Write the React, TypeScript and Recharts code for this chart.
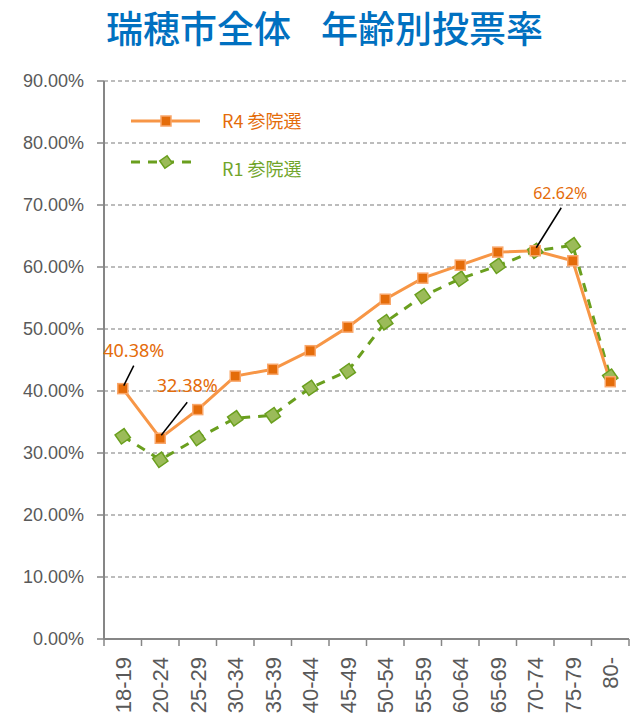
import React from 'react';
import {
  LineChart,
  Line,
  XAxis,
  YAxis,
  CartesianGrid,
} from 'recharts';

const AGE_GROUPS = [
  '18-19', '20-24', '25-29', '30-34', '35-39', '40-44', '45-49',
  '50-54', '55-59', '60-64', '65-69', '70-74', '75-79', '80-',
];
const R4_RATES = [40.38, 32.38, 37.0, 42.4, 43.5, 46.5, 50.3, 54.8, 58.2, 60.3, 62.4, 62.62, 61.0, 41.5];
const R1_RATES = [32.7, 28.9, 32.4, 35.6, 36.1, 40.5, 43.2, 51.1, 55.3, 58.1, 60.2, 62.6, 63.5, 42.3];
const Y_TICKS = [0, 10, 20, 30, 40, 50, 60, 70, 80, 90];
const R4_NAME = 'R4 参院選';
const R1_NAME = 'R1 参院選';
const TITLE_LEFT = '瑞穂市全体';
const TITLE_RIGHT = '年齢別投票率';

// which R4 points get a value label, and where the label sits relative to the point
const LABELLED: Record<number, { dx: number; dy: number; lx: number; ly: number; size: number }> = {
  0: { dx: 11, dy: -32, lx: 11, ly: -23, size: 18 },
  1: { dx: 27, dy: -46, lx: 27, ly: -36, size: 18 },
  11: { dx: 25, dy: -52, lx: 26, ly: -43, size: 16 },
};

const data = AGE_GROUPS.map((age, i) => ({ age, r4: R4_RATES[i], r1: R1_RATES[i] }));

const W = 641;
const H = 722;
const LEFT = 104;
const RIGHT = 12;
const TOP = 81;
const BOTTOM = 83;
const HALF_BAND = (W - LEFT - RIGHT) / AGE_GROUPS.length / 2;

const AXIS = '#868686';
const ORANGE = '#F79646';
const ORANGE_DARK = '#E46C0A';
const GREEN = '#6A9F1E';
const GREEN_FILL = '#9BBB59';
const GREEN_TEXT = '#71A52A';

function SquareDot(props: any) {
  const { cx, cy } = props;
  if (cx == null || cy == null) return null;
  return <rect x={cx - 5} y={cy - 5} width={10} height={10} fill={ORANGE_DARK} stroke="#F9A76B" strokeWidth={1.5} />;
}

function DiamondDot(props: any) {
  const { cx, cy, size = 11 } = props;
  if (cx == null || cy == null) return null;
  const h = size / 2;
  return (
    <rect
      x={cx - h}
      y={cy - h}
      width={size}
      height={size}
      fill={GREEN_FILL}
      stroke={GREEN}
      strokeWidth={1.5}
      transform={`rotate(-35 ${cx} ${cy})`}
    />
  );
}

function ValueLabel(props: any) {
  const { x, y, index, value } = props;
  const l = LABELLED[index];
  if (!l) return null;
  return (
    <g>
      <line x1={x + 1} y1={y - 3} x2={x + l.lx} y2={y + l.ly} stroke="#000" strokeWidth={1.5} />
      <text
        x={x + l.dx}
        y={y + l.dy}
        textAnchor="middle"
        fill={ORANGE_DARK}
        fontSize={l.size}
        fontFamily="'Noto Sans', sans-serif"
      >
        {Number(value).toFixed(2)}%
      </text>
    </g>
  );
}

function AgeTick(props: any) {
  const { x, y, payload, index } = props;
  const ty = y + 18;
  return (
    <g>
      <line x1={x - HALF_BAND} y1={y} x2={x - HALF_BAND} y2={y + 7} stroke={AXIS} strokeWidth={1.5} />
      {index === AGE_GROUPS.length - 1 && (
        <line x1={x + HALF_BAND} y1={y} x2={x + HALF_BAND} y2={y + 7} stroke={AXIS} strokeWidth={1.5} />
      )}
      <text
        x={x}
        y={ty}
        dy="0.36em"
        textAnchor="end"
        transform={`rotate(-90 ${x} ${ty})`}
        fill="#595959"
        fontSize={22}
        fontFamily="'Liberation Sans', Arial, sans-serif"
      >
        {payload.value}
      </text>
    </g>
  );
}

function LegendBox() {
  return (
    <svg width={220} height={80} style={{ position: 'absolute', left: 120, top: 100 }}>
      <line x1={11} y1={21} x2={80} y2={21} stroke={ORANGE} strokeWidth={3} />
      <SquareDot cx={46} cy={21} />
      <text x={102} y={28} fill={ORANGE_DARK} fontSize={18} fontFamily="'Noto Sans CJK JP', sans-serif">
        {R4_NAME}
      </text>
      <line x1={11} y1={62} x2={78} y2={62} stroke={GREEN} strokeWidth={3} strokeDasharray="9 8" />
      <DiamondDot cx={46} cy={62} size={9} />
      <text x={102} y={76} fill={GREEN_TEXT} fontSize={18} fontFamily="'Noto Sans CJK JP', sans-serif">
        {R1_NAME}
      </text>
    </svg>
  );
}

export default function App() {
  return (
    <div style={{ position: 'absolute', left: 0, top: 0, width: W, height: H, background: '#fff' }}>
      <div
        style={{
          position: 'absolute',
          left: 106,
          top: 4,
          fontSize: 37,
          lineHeight: '46px',
          color: '#0070C0',
          fontWeight: 500,
          fontFamily: "'Noto Sans CJK JP', sans-serif",
          whiteSpace: 'nowrap',
        }}
      >
        {TITLE_LEFT}
        <span style={{ marginLeft: 30 }}>{TITLE_RIGHT}</span>
      </div>
      <LineChart
        width={W}
        height={H}
        data={data}
        margin={{ top: TOP, right: RIGHT, bottom: 0, left: 0 }}
      >
        <CartesianGrid vertical={false} stroke="#A6A6A6" strokeDasharray="4 3" strokeWidth={1.5} />
        <XAxis
          dataKey="age"
          height={BOTTOM}
          padding={{ left: HALF_BAND, right: HALF_BAND }}
          axisLine={{ stroke: AXIS, strokeWidth: 2 }}
          tickLine={false}
          tickSize={0}
          tickMargin={0}
          interval={0}
          tick={<AgeTick />}
        />
        <YAxis
          width={LEFT}
          domain={[0, 90]}
          ticks={Y_TICKS}
          interval={0}
          axisLine={{ stroke: AXIS, strokeWidth: 2 }}
          tickLine={{ stroke: AXIS, strokeWidth: 1.5 }}
          tickSize={7}
          tickMargin={13}
          tickFormatter={(v: number) => `${v.toFixed(2)}%`}
          tick={{ fill: '#595959', fontSize: 18, fontFamily: "'Liberation Sans', Arial, sans-serif" }}
        />
        <Line
          dataKey="r1"
          name={R1_NAME}
          stroke={GREEN}
          strokeWidth={3}
          strokeDasharray="9 8"
          dot={<DiamondDot />}
          activeDot={false}
          isAnimationActive={false}
        />
        <Line
          dataKey="r4"
          name={R4_NAME}
          stroke={ORANGE}
          strokeWidth={3}
          dot={<SquareDot />}
          activeDot={false}
          label={<ValueLabel />}
          isAnimationActive={false}
        />
      </LineChart>
      <LegendBox />
    </div>
  );
}
